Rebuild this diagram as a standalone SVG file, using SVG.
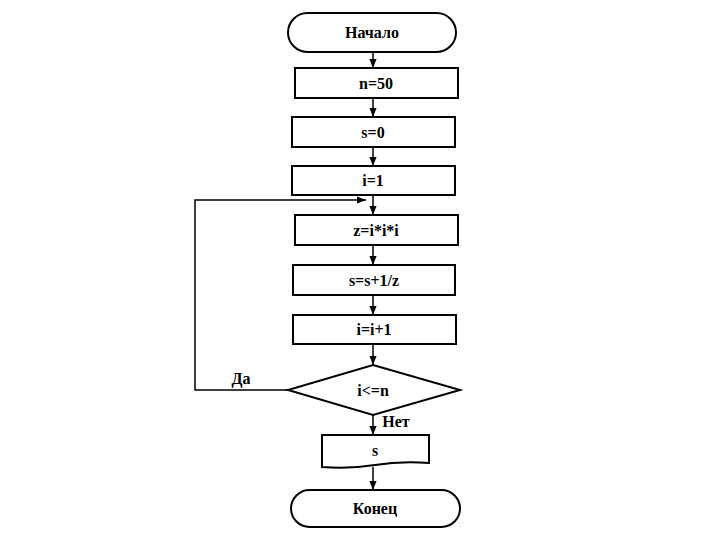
<svg xmlns="http://www.w3.org/2000/svg" width="720" height="540" viewBox="0 0 720 540">
<style>
.s{fill:#fff;stroke:#000;stroke-width:2}
.c{fill:none;stroke:#000;stroke-width:1.5}
.t{font-family:'Liberation Serif','Times New Roman','DejaVu Serif',serif;font-weight:bold;font-size:16px;text-anchor:middle}
</style>
<defs><marker id="a" viewBox="0 0 10 10" refX="10" refY="5" markerWidth="6" markerHeight="6" orient="auto"><path d="M0,1L10,5L0,9z"/></marker></defs>
<rect width="720" height="540" fill="#fff"/>
<g id="connectors">
<path class="c" d="M373,52V68" marker-end="url(#a)"/>
<path class="c" d="M373,98V117" marker-end="url(#a)"/>
<path class="c" d="M373,147V166" marker-end="url(#a)"/>
<path class="c" d="M373,195V215" marker-end="url(#a)"/>
<path class="c" d="M373,245V265" marker-end="url(#a)"/>
<path class="c" d="M373,295V315" marker-end="url(#a)"/>
<path class="c" d="M373,344V365" marker-end="url(#a)"/>
<path class="c" d="M373,415V435" marker-end="url(#a)"/>
<path class="c" d="M373,467V490" marker-end="url(#a)"/>
<path class="c" d="M288,390H195V200H366" marker-end="url(#a)"/>
</g>
<g id="start"><rect class="s" x="288" y="13" width="168" height="39" rx="19.5"/><text class="t" x="372" y="38">Начало</text></g>
<g id="n50"><rect class="s" x="295" y="68" width="163" height="30"/><text class="t" x="376" y="89">n=50</text></g>
<g id="s0"><rect class="s" x="292" y="117" width="163" height="30"/><text class="t" x="373" y="138">s=0</text></g>
<g id="i1"><rect class="s" x="292" y="166" width="163" height="29"/><text class="t" x="373" y="186">i=1</text></g>
<g id="z"><rect class="s" x="295" y="215" width="163" height="30"/><text class="t" x="376" y="236">z=i*i*i</text></g>
<g id="ss"><rect class="s" x="293" y="265" width="162" height="30"/><text class="t" x="374" y="286">s=s+1/z</text></g>
<g id="ii"><rect class="s" x="293" y="315" width="163" height="29"/><text class="t" x="374" y="335">i=i+1</text></g>
<g id="cond"><path class="s" d="M373,365L460,390L373,415L288,390Z"/><text class="t" x="373" y="396">i&lt;=n</text></g>
<text class="t" x="241" y="384">Да</text>
<text class="t" x="396" y="427">Нет</text>
<g id="out"><path class="s" d="M322,435H429V463Q400,461 375,465T322,467Z"/><text class="t" x="375" y="456">s</text></g>
<g id="end"><rect class="s" x="291" y="490" width="169" height="37" rx="18.5"/><text class="t" x="375" y="514">Конец</text></g>
</svg>
